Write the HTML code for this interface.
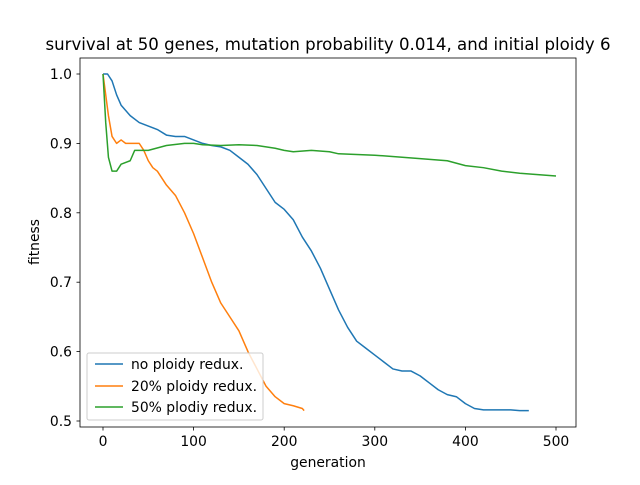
<!DOCTYPE html>
<html><head><meta charset="utf-8"><style>
body{margin:0;background:#fff;font-family:"Liberation Sans","DejaVu Sans",sans-serif}
svg text{font-family:"DejaVu Sans","Liberation Sans",sans-serif}
</style></head><body>
<svg id="chart" width="640" height="480" xmlns="http://www.w3.org/2000/svg">
<rect width="640" height="480" fill="#fff"/>
<text x="328" y="50" font-size="16.6" text-anchor="middle">survival at 50 genes, mutation probability 0.014, and initial ploidy 6</text>
<g id="plot"></g>
<rect x="80" y="58" width="496" height="369" fill="none" stroke="#000" stroke-width="0.8"/>
<text x="328" y="467" font-size="13.9" text-anchor="middle">generation</text>
<text x="0" y="0" font-size="13.9" text-anchor="middle" transform="translate(39,242) rotate(-90)">fitness</text>
<g id="ticks"></g>
<g>
<rect x="87" y="353" width="176" height="67" fill="#fff" fill-opacity="0.8" stroke="#ccc" rx="2"/>
<line x1="95" y1="364" x2="123" y2="364" stroke="#1f77b4" stroke-width="1.5"/>
<text x="131" y="369" font-size="13.9">no ploidy redux.</text>
<line x1="95" y1="386" x2="123" y2="386" stroke="#ff7f0e" stroke-width="1.5"/>
<text x="131" y="391" font-size="13.9">20% ploidy redux.</text>
<line x1="95" y1="407" x2="123" y2="407" stroke="#2ca02c" stroke-width="1.5"/>
<text x="131" y="412" font-size="13.9">50% plodiy redux.</text>
</g>
</svg>
<script>
const xTicks=[0,100,200,300,400,500];
const yTicks=[0.5,0.6,0.7,0.8,0.9,1.0];
const yTickLabels=["0.5","0.6","0.7","0.8","0.9","1.0"];
const blueX=[0,5,10,15,20,30,40,50,60,70,80,90,100,110,120,130,140,150,160,170,180,190,200,210,220,230,240,250,260,270,280,290,300,310,320,330,340,350,360,370,380,390,400,410,420,430,440,450,460,470];
const blueY=[1.0,1.0,0.99,0.97,0.955,0.94,0.93,0.925,0.92,0.912,0.91,0.91,0.905,0.9,0.897,0.895,0.89,0.88,0.87,0.855,0.835,0.815,0.805,0.79,0.765,0.745,0.72,0.69,0.66,0.635,0.615,0.605,0.595,0.585,0.575,0.572,0.572,0.565,0.555,0.545,0.538,0.535,0.525,0.518,0.516,0.516,0.516,0.516,0.515,0.515];
const orangeX=[0,3,6,10,15,20,25,30,40,45,50,55,60,70,80,90,100,110,120,130,140,150,160,170,180,190,200,210,220,222];
const orangeY=[1.0,0.97,0.94,0.91,0.9,0.905,0.9,0.9,0.9,0.89,0.875,0.865,0.86,0.84,0.825,0.8,0.77,0.735,0.7,0.67,0.65,0.63,0.6,0.575,0.55,0.535,0.525,0.522,0.518,0.515];
const greenX=[0,3,6,10,15,20,30,35,50,70,90,100,110,130,150,170,190,200,210,230,250,260,300,350,380,400,420,440,460,480,500];
const greenY=[1.0,0.93,0.88,0.86,0.86,0.87,0.875,0.89,0.89,0.897,0.9,0.9,0.898,0.897,0.898,0.897,0.893,0.89,0.888,0.89,0.888,0.885,0.883,0.878,0.875,0.868,0.865,0.86,0.857,0.855,0.853];
const sx=v=>103+v*0.906;
const sy=v=>421-(v-0.5)*694;
const NS="http://www.w3.org/2000/svg";
const plot=document.getElementById('plot'), ticks=document.getElementById('ticks');
function mk(t,a,p){const e=document.createElementNS(NS,t);for(const k in a)e.setAttribute(k,a[k]);p.appendChild(e);return e;}
xTicks.forEach(v=>{
 const l=mk('line',{x1:sx(v),x2:sx(v),y1:427,y2:430.5,stroke:'#000','stroke-width':0.8},ticks);
 
 
 const t=mk('text',{x:sx(v),y:446,'font-size':13.9,'text-anchor':'middle'},ticks);t.textContent=v;
 
 
});
yTicks.forEach((v,i)=>{
 const l=mk('line',{x1:76.5,x2:80,y1:sy(v),y2:sy(v),stroke:'#000','stroke-width':0.8},ticks);
 
 
 const t=mk('text',{x:72,y:sy(v)+5,'font-size':13.9,'text-anchor':'end'},ticks);t.textContent=yTickLabels[i];
 
 
});
function series(xs,ys,c,name){
 const p=mk('polyline',{points:xs.map((x,i)=>sx(x)+','+sy(ys[i])).join(' '),fill:'none',stroke:c,'stroke-width':1.5,'stroke-linejoin':'round'},plot);
 
 
}
series(blueX,blueY,'#1f77b4','line-no-ploidy-redux');
series(orangeX,orangeY,'#ff7f0e','line-20-ploidy-redux');
series(greenX,greenY,'#2ca02c','line-50-ploidy-redux');
</script>
</body></html>
